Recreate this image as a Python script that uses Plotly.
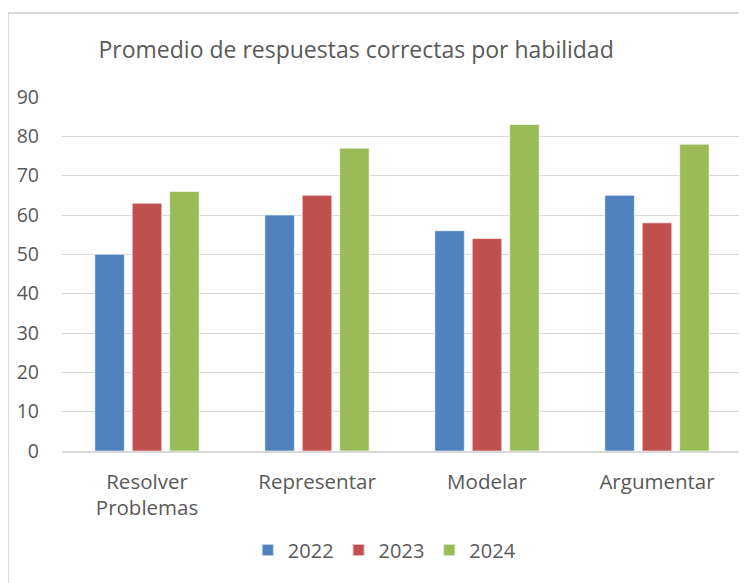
import plotly.graph_objects as go

categories = ["Resolver<br>Problemas", "Representar", "Modelar", "Argumentar"]
years = ["2022", "2023", "2024"]
v2022 = [50, 60, 56, 65]
v2023 = [63, 65, 54, 58]
v2024 = [66, 77, 83, 78]
colors = ["#4F81BD", "#C0504D", "#9BBB59"]

font_fam = "Open Sans, Lato, sans-serif"
txt = "#595959"

fig = go.Figure()
for name, vals, c in zip(years, [v2022, v2023, v2024], colors):
    fig.add_trace(go.Bar(x=categories, y=vals, name=name, marker_color=c,
                         marker_line=dict(color="rgba(255,255,255,0.6)", width=1)))

# chart border (page body adds 8px offset, margins compensate)
fig.add_shape(type="rect", xref="paper", yref="paper",
              x0=-0.0794, x1=1.05, y0=-0.6, y1=1.237,
              line=dict(color="#D9D9D9", width=2), layer="below")

fig.update_layout(
    width=747, height=583,
    margin=dict(l=54, r=13, t=89, b=140),
    paper_bgcolor="white", plot_bgcolor="white",
    font=dict(family=font_fam, color=txt, size=20),
    title=dict(text="Promedio de respuestas correctas por habilidad",
               xref="container", yref="container", x=0.466, xanchor="center",
               y=1 - 42 / 583, yanchor="middle",
               font=dict(size=23, color=txt, family=font_fam)),
    barmode="group", bargap=0.34, bargroupgap=0.21,
    showlegend=True,
    legend=dict(orientation="h", x=0.474, xanchor="center", y=-0.28, yanchor="middle",
                font=dict(size=20, color=txt), itemwidth=30, tracegroupgap=0,
                itemsizing="constant"),
)
fig.update_yaxes(range=[0, 90], dtick=10, showgrid=True, gridcolor="#D9D9D9", gridwidth=1,
                 zeroline=False, showline=False, ticks="", ticklabelstandoff=22,
                 tickfont=dict(size=19.5, color=txt), automargin=False)
fig.update_xaxes(showline=True, linecolor="#D9D9D9", linewidth=2, ticks="",
                 ticklabelstandoff=11, tickfont=dict(size=20.5, color=txt), automargin=False)

fig.write_html("out.html")
